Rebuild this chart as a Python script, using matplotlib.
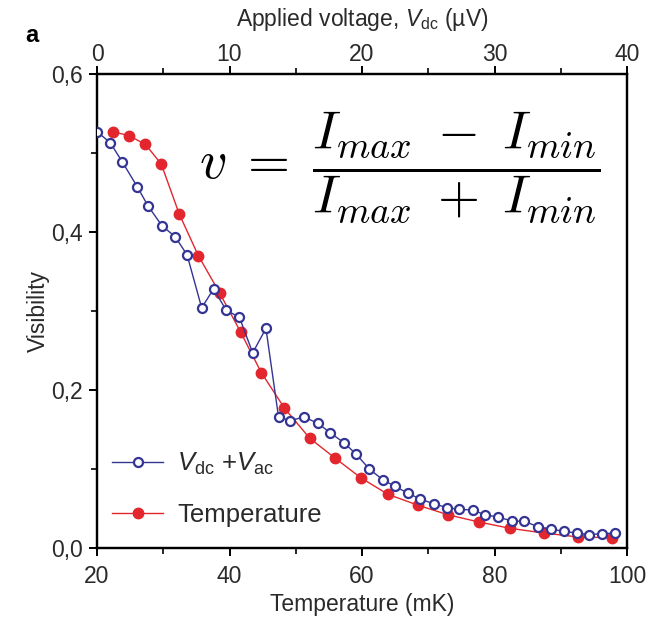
import matplotlib
matplotlib.use("Agg")
import matplotlib.pyplot as plt
from matplotlib.ticker import MultipleLocator, FixedLocator

plt.rcParams['font.family'] = ['Liberation Sans', 'DejaVu Sans']
plt.rcParams['mathtext.fontset'] = 'custom'
plt.rcParams['mathtext.it'] = 'Liberation Sans:italic'
plt.rcParams['mathtext.rm'] = 'Liberation Sans'

# Temperature series (bottom axis, mK)
temp_mK = [22.4, 24.8, 27.3, 29.7, 32.4, 35.3, 38.5, 41.7, 44.8, 48.3, 52.1,
           55.9, 59.8, 63.9, 68.5, 73.0, 77.6, 82.3, 87.4, 92.6, 97.7]
temp_vis = [0.527, 0.522, 0.511, 0.486, 0.423, 0.370, 0.323, 0.273, 0.222,
            0.177, 0.139, 0.114, 0.089, 0.068, 0.054, 0.042, 0.033, 0.025,
            0.019, 0.014, 0.013]

# Vdc + Vac series (top axis, microvolts)
vdc_uV = [0, 1.0, 1.9, 3.05, 3.85, 4.9, 5.9, 6.8, 7.9, 8.8, 9.75, 10.75, 11.75,
          12.75, 13.7, 14.6, 15.6, 16.65, 17.6, 18.65, 19.55, 20.55, 21.6, 22.5,
          23.5, 24.4, 25.4, 26.45, 27.35, 28.35, 29.3, 30.3, 31.35, 32.25,
          33.25, 34.25, 35.25, 36.2, 37.1, 38.1, 39.1]
vdc_vis = [0.527, 0.513, 0.489, 0.457, 0.433, 0.408, 0.394, 0.371, 0.304,
           0.328, 0.301, 0.292, 0.247, 0.278, 0.166, 0.161, 0.166, 0.158,
           0.146, 0.133, 0.119, 0.100, 0.086, 0.078, 0.069, 0.062, 0.056,
           0.051, 0.049, 0.048, 0.042, 0.039, 0.034, 0.034, 0.027, 0.024,
           0.021, 0.019, 0.017, 0.018, 0.019]

bottom_ticks = [20, 40, 60, 80, 100]
top_ticks = [0, 10, 20, 30, 40]
y_ticks = [0.0, 0.2, 0.4, 0.6]
y_labels = ['0,0', '0,2', '0,4', '0,6']

RED = '#e3262d'
BLUE = '#343494'
TXT = '#2a2a2a'
FS = 16.5

fig = plt.figure(figsize=(6.56, 6.21), dpi=100)
ax = fig.add_axes([97/656, 1-548/621, 530/656, 474/621])
ax.set_xlim(20, 100)
ax.set_ylim(0, 0.6)

lr, = ax.plot(temp_mK, temp_vis, '-o', color=RED, lw=1.0, ms=7.5,
              mfc=RED, mec=RED, label='Temperature', zorder=3)

ax2 = ax.twiny()
ax2.set_xlim(0, 40)
lb, = ax2.plot(vdc_uV, vdc_vis, '-o', color=BLUE, lw=1.0, ms=6.5,
               mfc='white', mec=BLUE, mew=1.6, label=r'$V_{\rm dc}$ +$V_{\rm ac}$',
               zorder=4)

for a in (ax, ax2):
    for s in a.spines.values():
        s.set_linewidth(1.6)
        s.set_color('black')

ax.xaxis.set_major_locator(FixedLocator(bottom_ticks))
ax.xaxis.set_minor_locator(MultipleLocator(10))
ax.yaxis.set_major_locator(FixedLocator(y_ticks))
ax.set_yticklabels(y_labels)
ax.yaxis.set_minor_locator(MultipleLocator(0.1))
ax2.xaxis.set_major_locator(FixedLocator(top_ticks))
ax2.xaxis.set_minor_locator(MultipleLocator(5))

ax.tick_params(axis='both', which='major', direction='out', length=6, width=1.4,
               labelsize=FS, labelcolor=TXT)
ax.tick_params(axis='x', which='major', pad=6)
ax.tick_params(axis='y', which='major', pad=4)
ax.tick_params(axis='both', which='minor', direction='out', length=4, width=1.2)
ax.tick_params(axis='y', right=False)
ax2.tick_params(axis='x', which='major', direction='out', length=6, width=1.4,
                labelsize=FS, labelcolor=TXT, pad=0)
ax2.tick_params(axis='x', which='minor', direction='out', length=4, width=1.2)

ax.set_xlabel('Temperature (mK)', fontsize=FS, color=TXT, labelpad=4)
ax.set_ylabel('Visibility', fontsize=FS, color=TXT, labelpad=1)
ax2.set_xlabel(r'Applied voltage, $V_{\rm dc}$ (µV)', fontsize=FS, color=TXT, labelpad=12)

fig.text(25/656, 1-36/621, 'a', fontsize=17, fontweight='bold', ha='left', va='center')

leg = ax2.legend(handles=[lb, lr], loc='lower left', bbox_to_anchor=(0.028, 0.045),
                 frameon=False, fontsize=18.5, handlelength=2.0, handletextpad=0.55,
                 labelspacing=1.0, borderaxespad=0.0, borderpad=0.0, labelcolor=TXT)

fig.text(400/656, 1-167/621,
         r'$v\;=\;\dfrac{I_{max}\;-\;I_{min}}{I_{max}\;+\;I_{min}}$',
         fontsize=39, ha='center', va='center', math_fontfamily='cm')

fig.savefig('out.png', dpi=100)
